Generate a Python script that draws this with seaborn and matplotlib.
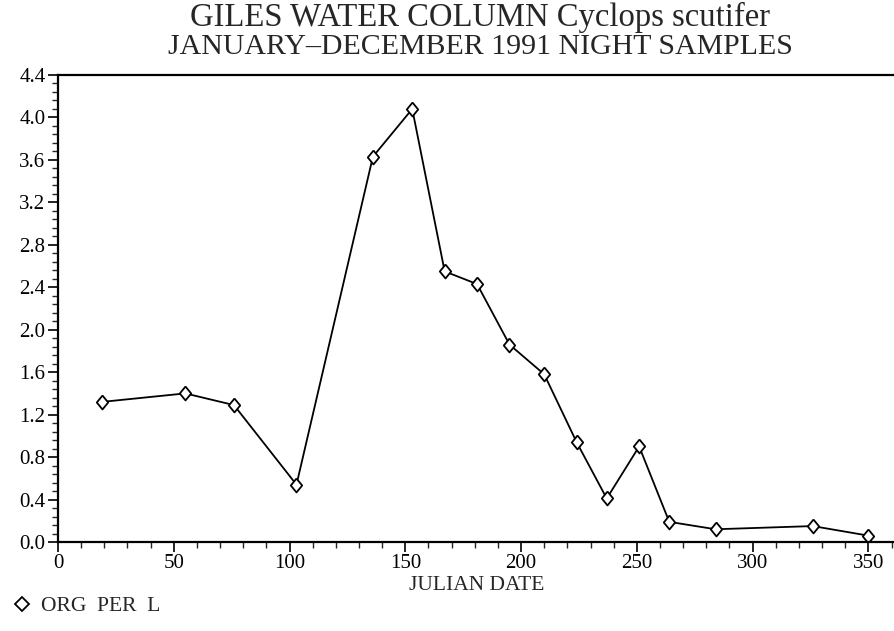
import matplotlib
matplotlib.use("Agg")
import matplotlib.pyplot as plt
from matplotlib.ticker import MultipleLocator, FormatStrFormatter
from matplotlib.lines import Line2D
import pandas as pd
import seaborn as sns

# Sampling dates (Julian day) and Cyclops scutifer density (organisms per litre)
julian_day = [19, 55, 76, 103, 136, 153, 167, 181, 195, 210, 224, 237, 251, 264, 284, 326, 350]
org_per_l = [1.32, 1.40, 1.29, 0.54, 3.63, 4.08, 2.55, 2.43, 1.86, 1.58, 0.94, 0.41, 0.90, 0.19, 0.12, 0.15, 0.06]

title_lines = ["GILES WATER COLUMN Cyclops scutifer", "JANUARY\u2013DECEMBER 1991 NIGHT SAMPLES"]
x_label = "JULIAN DATE"
series_label = "ORG  PER  L"

sns.set_style("ticks")
plt.rcParams["font.family"] = ["Liberation Serif", "DejaVu Serif"]

df = pd.DataFrame({"day": julian_day, "density": org_per_l})

fig = plt.figure(figsize=(8.95, 6.31), dpi=100)
ax = fig.add_axes([58 / 895, 1 - 542 / 631, 1 - 58 / 895, (542 - 75) / 631])

diamond = [(0, 1), (0.82, 0), (0, -1), (-0.82, 0), (0, 1)]
sns.lineplot(data=df, x="day", y="density", ax=ax, color="black", linewidth=1.3,
             marker=diamond, markersize=10, markerfacecolor="white",
             markeredgecolor="black", markeredgewidth=1.3, sort=False)

ax.set_xlim(0, 361.5)
ax.set_ylim(0, 4.4)
ax.xaxis.set_major_locator(MultipleLocator(50))
ax.xaxis.set_minor_locator(MultipleLocator(10))
ax.yaxis.set_major_locator(MultipleLocator(0.4))
ax.yaxis.set_minor_locator(MultipleLocator(0.08))
ax.yaxis.set_major_formatter(FormatStrFormatter("%.1f"))

ax.tick_params(axis="both", which="major", direction="out", length=7, width=1.2,
               labelsize=15, pad=2, colors="black")
ax.tick_params(axis="both", which="minor", direction="out", length=4, width=1.0)
ax.tick_params(axis="x", which="both", top=False)
ax.tick_params(axis="y", which="both", right=False)

for side in ("left", "bottom", "top"):
    ax.spines[side].set_visible(True)
    ax.spines[side].set_linewidth(1.6)
    ax.spines[side].set_color("black")
ax.spines["right"].set_visible(False)

ax.set_xlabel(x_label, fontsize=15.5, labelpad=2)
ax.set_ylabel("")

fig.text(480 / 895, 1 - 17 / 631, title_lines[0], ha="center", va="center", fontsize=23.5)
fig.text(480 / 895, 1 - 47 / 631, title_lines[1], ha="center", va="center", fontsize=21.5)

# Series key below the plot
handle = Line2D([], [], linestyle="none", marker="D", markersize=7,
                markerfacecolor="white", markeredgecolor="black", markeredgewidth=1.3)
fig.legend([handle], [series_label], loc="center left", bbox_to_anchor=(0.0, 1 - 606 / 631),
           frameon=False, fontsize=15.5, handlelength=0.8, handletextpad=0.5, borderaxespad=0.2)

fig.savefig("out.png", dpi=100, facecolor="white")
